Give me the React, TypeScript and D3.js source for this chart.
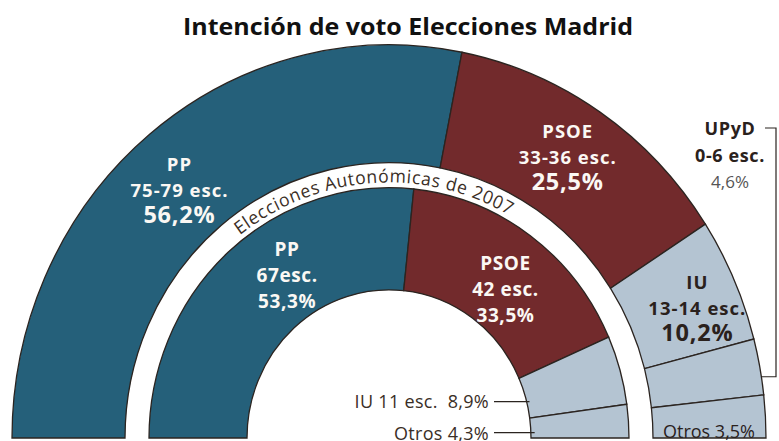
import React from "react";
import * as d3 from "d3";

const parties2011 = ["PP", "PSOE", "IU", "UPyD", "Otros"];
const share2011 = [56.2, 25.5, 10.2, 4.6, 3.5];
const seats2011 = ["75-79 esc.", "33-36 esc.", "13-14 esc.", "0-6 esc.", ""];

const parties2007 = ["PP", "PSOE", "IU", "Otros"];
const share2007 = [53.3, 33.5, 8.9, 4.3];
const seats2007 = ["67esc.", "42 esc.", "11 esc.", ""];

const title = "Intención de voto Elecciones Madrid";
const ringTitle = "Elecciones Autonómicas de 2007";

const W = 779, H = 441;
const cx = 389, cy = 438, sy = 1.043;
const outerR0 = 264, outerR1 = 377;
const innerR0 = 142, innerR1 = 240;
const FONT = "'Open Sans', 'Noto Sans', sans-serif";

const colors: Record<string, string> = {
  PP: "#25607a",
  PSOE: "#722a2c",
  IU: "#b4c4d2",
  UPyD: "#b4c4d2",
  Otros: "#b4c4d2",
};
const stroke = "#2b2420";
const darkText = "#2a211c";

const fmt = (v: number) => d3.format(".1f")(v).replace(".", ",") + "%";

const pie = d3
  .pie<number>()
  .sort(null)
  .startAngle(-Math.PI / 2)
  .endAngle(Math.PI / 2)
  .value((d) => d);

const pt = (r: number, a: number): [number, number] => [
  cx + r * Math.sin(a),
  cy - r * sy * Math.cos(a),
];

export default function App() {
  const outer = pie(share2011);
  const inner = pie(share2007);
  const arcOuter = d3.arc<d3.PieArcDatum<number>>().innerRadius(outerR0).outerRadius(outerR1);
  const arcInner = d3.arc<d3.PieArcDatum<number>>().innerRadius(innerR0).outerRadius(innerR1);

  const mid = (d: d3.PieArcDatum<number>) => (d.startAngle + d.endAngle) / 2;
  const outerC = outer.map((d) => pt((outerR0 + outerR1) / 2, mid(d)));
  const innerC = inner.map((d) => pt((innerR0 + innerR1) / 2, mid(d)));

  // text path for ring title
  const tr = 245;
  const ca = (-4 * Math.PI) / 180 - Math.PI / 2;
  const span = (60 * Math.PI) / 180;
  const tp = d3.path();
  tp.moveTo(tr * Math.cos(ca - span), tr * Math.sin(ca - span));
  tp.arc(0, 0, tr, ca - span, ca + span);

  const block = (
    key: string,
    x: number,
    y: number,
    lines: string[],
    sizes: number[],
    spacing: number[],
    fill: string
  ) => (
    <g key={key}>
      {lines.map((t, i) => (
        <text
          key={i}
          x={x}
          y={y + 6 + (i - 1) * 26}
          textAnchor="middle"
          fontFamily={FONT}
          fontWeight={700}
          fontSize={sizes[i]}
          letterSpacing={spacing[i]}
          fill={fill}
        >
          {t}
        </text>
      ))}
    </g>
  );

  const outerOff: Record<string, [number, number]> = { PP: [-6, 11], PSOE: [-1, -3], IU: [15, 6] };
  const innerOff: Record<string, [number, number]> = { PP: [26, -14], PSOE: [4, 13] };

  const iuIdx = parties2007.indexOf("IU");
  const otIdx = parties2007.indexOf("Otros");
  const iuP = pt(innerR0 + 4, mid(inner[iuIdx]));
  const otP = pt(innerR0 + 4, mid(inner[otIdx]));

  const upIdx = parties2011.indexOf("UPyD");
  const upP = pt(outerR1, mid(outer[upIdx]));
  const otOuterIdx = parties2011.indexOf("Otros");
  const otOuterC = outerC[otOuterIdx];

  return (
    <svg
      width={W}
      height={H}
      style={{ position: "absolute", left: 0, top: 0, background: "#fff" }}
    >
      <text
        x={408}
        y={35}
        textAnchor="middle"
        fontFamily={FONT}
        fontWeight={700}
        fontSize={24}
        fill="#111"
        textLength={450}
        lengthAdjust="spacingAndGlyphs"
      >
        {title}
      </text>

      <g transform={`translate(${cx},${cy}) scale(1,${sy})`}>
        {outer.map((d, i) => (
          <path
            key={"o" + i}
            d={arcOuter(d) || ""}
            fill={colors[parties2011[i]]}
            stroke={stroke}
            strokeWidth={1.3}
          />
        ))}
        {inner.map((d, i) => (
          <path
            key={"i" + i}
            d={arcInner(d) || ""}
            fill={colors[parties2007[i]]}
            stroke={stroke}
            strokeWidth={1.3}
          />
        ))}
        <path id="ringTitlePath" d={tp.toString()} fill="none" stroke="none" />
        <text fontFamily={FONT} fontSize={17.5} fill="#3a2e26" letterSpacing={0.7}>
          <textPath href="#ringTitlePath" startOffset="50%" textAnchor="middle">
            {ringTitle}
          </textPath>
        </text>
      </g>

      {parties2011.map((p, i) => {
        const off = outerOff[p];
        if (!off) return null;
        const light = colors[p] === "#b4c4d2";
        return block(
          "ol" + i,
          outerC[i][0] + off[0],
          outerC[i][1] + off[1],
          [p, seats2011[i], fmt(share2011[i])],
          [18.5, 18.5, 23.5],
          [1, 1, 0.8],
          light ? darkText : "#fbf8f4"
        );
      })}
      {parties2007.map((p, i) => {
        const off = innerOff[p];
        if (!off) return null;
        return block(
          "il" + i,
          innerC[i][0] + off[0],
          innerC[i][1] + off[1],
          [p, seats2007[i], fmt(share2007[i])],
          [19, 19, 19],
          [0.6, 0.6, 0.6],
          "#fbf8f4"
        );
      })}

      {/* UPyD label + bracket */}
      <text x={730} y={135} textAnchor="middle" fontFamily={FONT} fontWeight={700} fontSize={18} letterSpacing={0.6} fill={darkText}>
        {parties2011[upIdx]}
      </text>
      <text x={730} y={162} textAnchor="middle" fontFamily={FONT} fontWeight={700} fontSize={18} letterSpacing={0.6} fill={darkText}>
        {seats2011[upIdx]}
      </text>
      <text x={730} y={188} textAnchor="middle" fontFamily={FONT} fontSize={17} fill="#555">
        {fmt(share2011[upIdx])}
      </text>
      <polyline
        points={`765,128 776,128 776,${upP[1] + 10} ${upP[0] + 2},${upP[1] + 10}`}
        fill="none"
        stroke={stroke}
        strokeWidth={1.2}
      />

      {/* Otros outer */}
      <text x={otOuterC[0]} y={438} textAnchor="middle" fontFamily={FONT} fontSize={18} fill={darkText}>
        {parties2011[otOuterIdx] + " " + fmt(share2011[otOuterIdx])}
      </text>

      {/* inner IU / Otros */}
      <line x1={494} x2={iuP[0]} y1={iuP[1] + 5} y2={iuP[1] + 5} stroke={stroke} strokeWidth={1.2} />
      <text x={489} y={iuP[1] + 11} textAnchor="end" fontFamily={FONT} fontSize={18} letterSpacing={0.3} fill="#3a2e26" style={{ whiteSpace: "pre" }}>
        {parties2007[iuIdx] + " " + seats2007[iuIdx] + "  " + fmt(share2007[iuIdx])}
      </text>
      <line x1={494} x2={otP[0]} y1={otP[1] + 5} y2={otP[1] + 5} stroke={stroke} strokeWidth={1.2} />
      <text x={489} y={otP[1] + 12} textAnchor="end" fontFamily={FONT} fontSize={18} letterSpacing={0.3} fill="#3a2e26">
        {parties2007[otIdx] + " " + fmt(share2007[otIdx])}
      </text>
    </svg>
  );
}
